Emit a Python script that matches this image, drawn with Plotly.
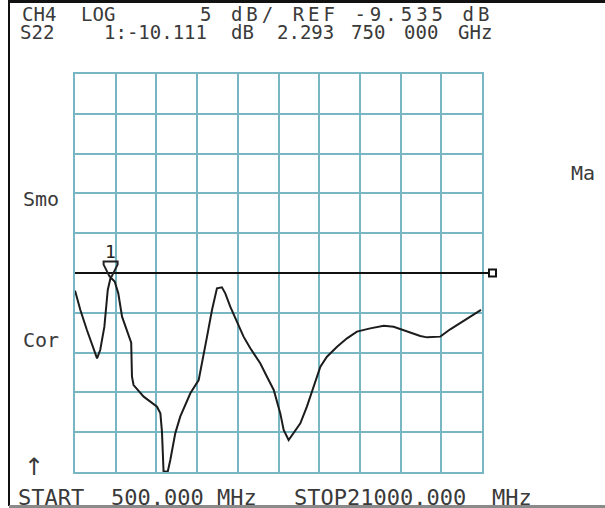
import plotly.graph_objects as go

# ---------------- data ----------------
START_GHZ = 0.5
STOP_GHZ = 21.0
REF_DB = -9.535
SCALE_DB = 5.0
N_DIV = 10

freq_ghz = [0.50, 0.77, 1.10, 1.44, 1.61, 1.77, 1.98, 2.15, 2.29375, 2.50, 2.68, 2.87,
            3.20, 3.33, 3.37, 3.45, 3.96, 4.30, 4.63, 4.80, 4.88, 4.96, 5.17, 5.30,
            5.55, 5.80, 6.31, 6.73, 6.90, 7.15, 7.40, 7.65, 7.90, 8.07, 8.32, 8.66,
            8.99, 9.33, 9.83, 10.17, 10.51, 10.84, 11.01, 11.26, 11.51, 11.85, 12.18,
            12.52, 12.86, 13.19, 13.70, 14.20, 14.70, 15.37, 16.05, 16.55, 17.22,
            17.89, 18.23, 18.90, 19.40, 20.08, 20.95]
s22_db = [-11.75, -14.18, -16.70, -19.21, -20.25, -19.21, -16.28, -11.67, -10.111, -10.60,
          -12.09, -15.02, -17.53, -18.30, -22.56, -23.61, -25.07, -25.70, -26.33, -27.17,
          -29.47, -34.45, -34.50, -33.03, -29.68, -27.58, -24.65, -22.98, -20.88, -17.53,
          -14.18, -11.46, -11.34, -12.09, -13.77, -15.65, -17.53, -19.00, -20.88, -22.56,
          -24.23, -27.17, -29.26, -30.51, -29.68, -28.42, -26.33, -23.81, -21.30, -20.05,
          -18.79, -17.74, -16.90, -16.49, -16.15, -16.28, -16.82, -17.45, -17.62, -17.53,
          -16.61, -15.52, -14.18]

MARKER_NO = "1"
MARKER_GHZ = 2.29375
MARKER_DB = -10.111

header_line1 = [("CH4", 21, 0), ("LOG", 80, 0), ("5 dB/ REF -9.535 dB", 199, 4)]
header_line2 = [("S22", 19, 0), ("1:-10.111", 103, 0), ("dB", 230, 0), ("2.293", 276, 0),
                ("750", 350, 0), ("000", 403, 0), ("GHz", 457, 0)]
footer_line = [("START", 17), ("500.000", 110), ("MHz", 216), ("STOP21000.000", 293),
               ("MHz", 491)]
side_labels = [("Smo", 22, 199), ("Cor", 22, 340), ("Ma", 570, 173)]
arrow_label = ("↑", 23, 467)

# ---------------- layout geometry ----------------
FIG_W, FIG_H = 605, 508
L, T, W, H = 75, 74, 407, 398


def xp(px):
    return (px - L) / W


def yp(py):
    return 1 - (py - T) / H


y_top = REF_DB + SCALE_DB * N_DIV / 2
y_bot = REF_DB - SCALE_DB * N_DIV / 2
ref_paper = (REF_DB - y_bot) / (y_top - y_bot)

GRID = "#78b6c3"
INK = "#3a3a3a"
FONT = "DejaVu Sans Mono"

fig = go.Figure()
fig.add_trace(go.Scatter(x=freq_ghz, y=s22_db, mode="lines",
                         line=dict(color="#1c1c1c", width=2), hoverinfo="skip",
                         showlegend=False))

axis_common = dict(showgrid=True, gridcolor=GRID, gridwidth=2, zeroline=False,
                   showticklabels=False, ticks="", showline=True, linecolor=GRID,
                   linewidth=2, mirror=True)
fig.update_xaxes(range=[START_GHZ, STOP_GHZ], tick0=START_GHZ,
                 dtick=(STOP_GHZ - START_GHZ) / N_DIV, **axis_common)
fig.update_yaxes(range=[y_bot, y_top], tick0=REF_DB, dtick=SCALE_DB, **axis_common)

shapes = []
# reference line
shapes.append(dict(type="line", xref="paper", yref="paper", x0=xp(L), x1=xp(490),
                   y0=ref_paper, y1=ref_paper, line=dict(color="#111111", width=2)))
# end-of-ref-line tab
shapes.append(dict(type="rect", xref="paper", yref="paper", x0=xp(489), x1=xp(496),
                   y0=ref_paper - 3.5 / H, y1=ref_paper + 3.5 / H,
                   line=dict(color="#111111", width=2), fillcolor="white"))
# marker triangle (funnel)
shapes.append(dict(type="path", xref="x", yref="y", xsizemode="pixel", ysizemode="pixel",
                   xanchor=MARKER_GHZ, yanchor=MARKER_DB,
                   path="M -7 16 L 7 16 L 7 13 L 1 1 L -1 1 L -7 13 Z",
                   line=dict(color="#222222", width=2), fillcolor="rgba(0,0,0,0)"))
# frame of the photo
shapes.append(dict(type="line", xref="paper", yref="paper", x0=xp(9), x1=xp(9),
                   y0=yp(0), y1=yp(506), line=dict(color="#111111", width=2)))
shapes.append(dict(type="line", xref="paper", yref="paper", x0=xp(9), x1=xp(605),
                   y0=yp(1.5), y1=yp(1.5), line=dict(color="#111111", width=3)))
shapes.append(dict(type="line", xref="paper", yref="paper", x0=xp(9), x1=xp(605),
                   y0=yp(506.5), y1=yp(506.5), line=dict(color="#8a8a8a", width=3)))

annotations = []


def add_text(txt, px, py, size=20, spacing=0, family=FONT):
    if spacing:
        txt = '<span style="letter-spacing:%dpx">%s</span>' % (spacing, txt)
    annotations.append(dict(text=txt, xref="paper", yref="paper", x=xp(px), y=yp(py),
                            xanchor="left", yanchor="middle", showarrow=False,
                            borderpad=0,
                            font=dict(family=family, size=size, color=INK)))


for txt, px, sp in header_line1:
    add_text(txt, px, 14, size=19, spacing=sp)
for txt, px, sp in header_line2:
    add_text(txt, px, 32, size=19, spacing=sp)
for txt, px in footer_line:
    add_text(txt, px, 497, size=22)
for txt, px, py in side_labels:
    add_text(txt, px, py)
add_text(arrow_label[0], arrow_label[1], arrow_label[2], size=24, family="DejaVu Sans")

annotations.append(dict(text=MARKER_NO, x=MARKER_GHZ, y=MARKER_DB, xref="x", yref="y",
                        xanchor="center", yanchor="bottom", yshift=15, showarrow=False,
                        borderpad=0,
                        font=dict(family=FONT, size=18, color="#222222")))

fig.update_layout(width=FIG_W, height=FIG_H, margin=dict(l=L, r=FIG_W - L - W, t=T,
                                                         b=FIG_H - T - H),
                  paper_bgcolor="white", plot_bgcolor="white", shapes=shapes,
                  annotations=annotations, showlegend=False)

fig.write_html("out.html", config={"displayModeBar": False, "staticPlot": True},
               post_script="document.body.style.margin='0';document.body.style.padding='0';")
